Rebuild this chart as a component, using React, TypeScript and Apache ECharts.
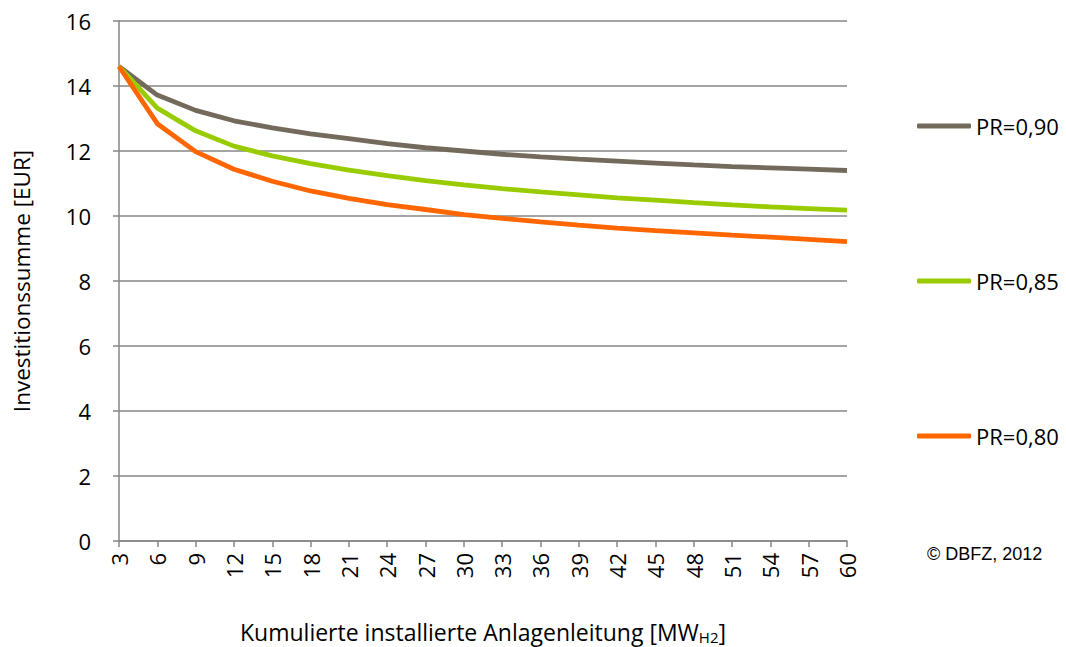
import React, { useEffect, useRef } from "react";
import * as echarts from "echarts";

const categories = ["3","6","9","12","15","18","21","24","27","30","33","36","39","42","45","48","51","54","57","60"];
const pr090 = [14.6,13.72,13.25,12.93,12.71,12.53,12.38,12.23,12.1,12.0,11.9,11.82,11.75,11.69,11.63,11.57,11.52,11.48,11.44,11.4];
const pr085 = [14.6,13.32,12.62,12.15,11.85,11.61,11.41,11.24,11.09,10.96,10.84,10.74,10.65,10.56,10.49,10.41,10.34,10.28,10.23,10.18];
const pr080 = [14.6,12.84,11.98,11.44,11.07,10.77,10.54,10.35,10.2,10.04,9.93,9.82,9.72,9.63,9.55,9.48,9.41,9.35,9.28,9.21];
const seriesNames = ["PR=0,90", "PR=0,85", "PR=0,80"];
const colors = ["#736A5C", "#99CC00", "#FF6600"];

export default function App() {
  const ref = useRef<HTMLDivElement>(null);
  useEffect(() => {
    const chart = echarts.init(ref.current!, null, { renderer: "svg" });
    const font = "'Open Sans', sans-serif";
    const legendTops = [110, 265, 420];
    const data = [pr090, pr085, pr080];
    chart.setOption({
      animation: false,
      textStyle: { fontFamily: font },
      grid: { left: 119, right: 219, top: 21, bottom: 106, containLabel: false, outerBoundsMode: "none" },
      xAxis: {
        type: "category",
        data: categories,
        boundaryGap: false,
        axisLine: { lineStyle: { color: "#868686", width: 1.5 } },
        axisTick: { show: true, alignWithLabel: true, length: 6, lineStyle: { color: "#868686", width: 1.5 } },
        axisLabel: { rotate: 90, fontSize: 22, color: "#000", fontFamily: font, margin: 12, interval: 0 },
        name: "{a|Kumulierte installierte Anlagenleitung [MW}{sub|H2}{a|]}",
        nameLocation: "middle",
        nameGap: 79,
        nameTextStyle: {
          rich: {
            a: { fontSize: 23, color: "#000", fontFamily: font },
            sub: { fontSize: 15, color: "#000", fontFamily: font, padding: [9, 0, 0, 0] },
          },
        },
      },
      yAxis: {
        type: "value",
        min: 0,
        max: 16,
        interval: 2,
        axisLine: { show: true, lineStyle: { color: "#868686", width: 1.5 } },
        axisTick: { show: true, length: 6, lineStyle: { color: "#868686", width: 1.5 } },
        splitLine: { lineStyle: { color: "#868686", width: 1.5 } },
        axisLabel: { fontSize: 22, color: "#000", fontFamily: font, margin: 28 },
        name: "Investitionssumme [EUR]",
        nameLocation: "middle",
        nameGap: 86,
        nameTextStyle: { fontSize: 22.5, color: "#000", fontFamily: font },
      },
      legend: seriesNames.map((n, i) => ({
        data: [n],
        orient: "vertical",
        left: 912,
        top: legendTops[i],
        icon: "roundRect",
        itemWidth: 54,
        itemHeight: 5,
        itemGap: 3,
        textStyle: { fontSize: 22, color: "#000", fontFamily: font },
        selectedMode: false,
      })),
      series: seriesNames.map((n, i) => ({
        name: n,
        type: "line",
        data: data[i],
        showSymbol: false,
        symbol: "none",
        color: colors[i],
        lineStyle: { color: colors[i], width: 4.8 },
      })),
      graphic: [
        {
          type: "text",
          left: 927,
          top: 545,
          style: { text: "© DBFZ, 2012", fontSize: 18, fill: "#000", fontFamily: "'Liberation Sans', Arial, sans-serif" },
        },
      ],
    });
    return () => chart.dispose();
  }, []);
  return <div ref={ref} style={{ width: 1066, height: 647, position: "absolute", left: 0, top: 0 }} />;
}
